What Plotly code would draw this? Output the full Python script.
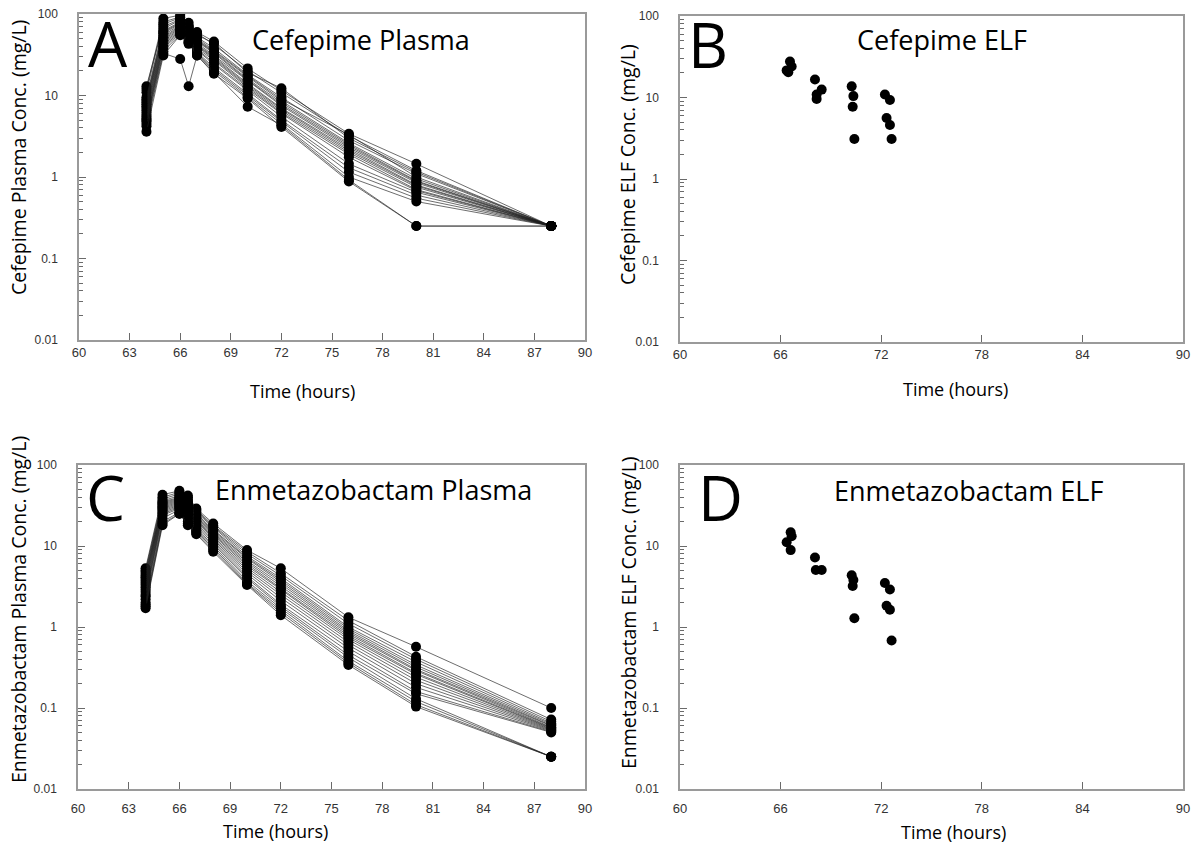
import plotly.graph_objects as go

W, H = 1203, 848

# ---------------- DATA ----------------
plasma_times = [64, 65, 66, 66.5, 67, 68, 70, 72, 76, 80, 88]

cefepime_plasma = [
    [12.0, 88, 97, 78, 60, 46, 21.5, 11.5, 3.4, 1.45, 0.25],
    [11.0, 80, 92, 72, 58, 42, 20.0, 10.8, 3.2, 1.20, 0.25],
    [13.0, 75, 90, 70, 55, 44, 19.0, 12.3, 3.0, 1.15, 0.25],
    [9.5, 70, 86, 68, 52, 38, 18.0, 9.5, 2.8, 1.10, 0.25],
    [9.0, 66, 84, 65, 50, 36, 17.5, 9.0, 3.3, 1.00, 0.25],
    [8.6, 62, 80, 63, 48, 35, 17.0, 8.6, 2.6, 0.95, 0.25],
    [8.2, 60, 78, 62, 47, 34, 16.0, 8.2, 2.5, 0.90, 0.25],
    [7.8, 58, 76, 60, 46, 33, 15.5, 7.8, 2.4, 0.88, 0.25],
    [7.4, 55, 74, 58, 44, 31, 15.0, 7.5, 2.3, 0.85, 0.25],
    [7.0, 52, 72, 56, 42, 30, 14.0, 7.0, 2.2, 0.80, 0.25],
    [6.6, 50, 70, 55, 41, 29, 13.5, 6.8, 2.1, 0.78, 0.25],
    [6.2, 48, 68, 53, 40, 28, 13.0, 6.5, 2.0, 0.75, 0.25],
    [5.8, 46, 66, 52, 38, 27, 12.5, 6.2, 1.9, 0.70, 0.25],
    [5.5, 44, 64, 50, 37, 25, 12.0, 6.0, 1.75, 0.68, 0.25],
    [5.2, 42, 62, 48, 36, 24, 11.5, 5.5, 1.45, 0.65, 0.25],
    [5.0, 40, 60, 46, 34, 22, 10.5, 5.0, 1.30, 0.60, 0.25],
    [4.8, 38, 58, 45, 33, 21, 10.0, 4.8, 1.15, 0.55, 0.25],
    [4.5, 35, 56, 44, 32, 20, 9.5, 4.5, 1.00, 0.50, 0.25],
    [4.2, 33, 28, 13, 31, 19, 7.3, 4.3, 0.92, 0.25, 0.25],
    [3.6, 31, 55, 43, 31, 18.5, 9.2, 4.1, 0.88, 0.25, 0.25],
]

enmetazobactam_plasma = [
    [5.3, 43, 48, 42, 29, 19.0, 8.9, 5.3, 1.32, 0.57, 0.100],
    [5.0, 40, 46, 40, 28, 18.0, 8.5, 4.6, 1.20, 0.43, 0.072],
    [4.8, 38, 44, 38, 27, 17.5, 8.0, 4.3, 1.10, 0.40, 0.068],
    [4.5, 36, 42, 36, 26, 17.0, 7.5, 4.0, 1.00, 0.37, 0.065],
    [4.3, 35, 40, 35, 25, 16.0, 7.2, 3.8, 0.95, 0.34, 0.063],
    [4.1, 34, 39, 34, 24, 15.5, 7.0, 3.6, 0.90, 0.32, 0.061],
    [3.9, 33, 38, 33, 23, 15.0, 6.6, 3.4, 0.86, 0.30, 0.060],
    [3.7, 32, 37, 32, 22.5, 14.5, 6.3, 3.2, 0.82, 0.29, 0.058],
    [3.5, 31, 36, 31, 22, 14.0, 6.0, 3.0, 0.78, 0.27, 0.057],
    [3.3, 30, 35, 30, 21, 13.5, 5.7, 2.9, 0.74, 0.26, 0.056],
    [3.1, 29, 34, 29, 20.5, 13.0, 5.4, 2.7, 0.70, 0.24, 0.055],
    [2.9, 28, 33, 28, 20, 12.5, 5.1, 2.5, 0.65, 0.22, 0.054],
    [2.7, 27, 32, 27, 19, 12.0, 4.8, 2.3, 0.60, 0.20, 0.053],
    [2.5, 26, 31, 26, 18, 11.5, 4.5, 2.1, 0.55, 0.18, 0.052],
    [2.4, 25, 30, 25, 17, 11.0, 4.2, 1.9, 0.50, 0.16, 0.051],
    [2.2, 24, 29, 24, 16, 10.5, 4.0, 1.8, 0.45, 0.15, 0.050],
    [2.0, 22, 28, 22, 15.5, 10.0, 3.7, 1.7, 0.42, 0.13, 0.025],
    [1.9, 20, 26, 20, 15, 9.5, 3.5, 1.6, 0.38, 0.12, 0.025],
    [1.8, 19, 25, 19, 14.5, 9.0, 3.4, 1.5, 0.36, 0.11, 0.025],
    [1.7, 18, 25, 18, 14, 8.5, 3.3, 1.4, 0.34, 0.104, 0.025],
]

cefepime_elf_time = [66.56, 66.66, 66.36, 66.46, 68.05, 68.45, 68.15, 68.15,
                     70.24, 70.34, 70.3, 70.4, 72.22, 72.52, 72.32, 72.52, 72.62]
cefepime_elf_conc = [27.7, 24.0, 21.5, 20.4, 16.6, 12.5, 10.9, 9.6,
                     13.7, 10.4, 7.7, 3.1, 10.9, 9.3, 5.6, 4.6, 3.1]

enmetazobactam_elf_time = [66.6, 66.66, 66.36, 66.6, 68.05, 68.1, 68.45,
                           70.24, 70.34, 70.3, 70.4, 72.22, 72.52, 72.32, 72.52, 72.62]
enmetazobactam_elf_conc = [14.8, 13.2, 11.1, 8.9, 7.2, 5.05, 5.05,
                           4.35, 3.8, 3.2, 1.28, 3.5, 2.9, 1.83, 1.63, 0.68]

y_tickvals = [0.01, 0.1, 1, 10, 100]
y_ticktext = ["0.01", "0.1", "1", "10", "100"]

# ---------------- FIGURE ----------------
fig = go.Figure()

line_col = "rgba(30,30,30,0.65)"

def add_subjects(rows, xa, ya):
    for r in rows:
        fig.add_trace(go.Scatter(
            x=plasma_times, y=r, mode="lines+markers",
            line=dict(color=line_col, width=1),
            marker=dict(color="black", size=10),
            xaxis=xa, yaxis=ya, showlegend=False, hoverinfo="x+y"))

add_subjects(cefepime_plasma, "x", "y")
add_subjects(enmetazobactam_plasma, "x3", "y3")

fig.add_trace(go.Scatter(x=cefepime_elf_time, y=cefepime_elf_conc, mode="markers",
                         marker=dict(color="black", size=10), xaxis="x2", yaxis="y2",
                         showlegend=False))
fig.add_trace(go.Scatter(x=enmetazobactam_elf_time, y=enmetazobactam_elf_conc, mode="markers",
                         marker=dict(color="black", size=10), xaxis="x4", yaxis="y4",
                         showlegend=False))

def xd(a, b):
    return [a / W, b / W]

def yd(top, bottom):
    return [1 - bottom / H, 1 - top / H]

frame = "#9a9a9a"
tickc = "#6a6a6a"
tickfont = dict(family="Liberation Sans, Arial", size=13, color="#333")

def xaxis(dom, dtick, anchor, standoff):
    return dict(domain=dom, range=[60, 90], dtick=dtick, tick0=60,
                ticks="inside", ticklen=7, tickcolor=tickc, tickwidth=1,
                showline=True, linecolor=frame, linewidth=1.5, mirror=True,
                showgrid=False, zeroline=False, anchor=anchor, automargin=False,
                tickfont=tickfont, ticklabelstandoff=standoff)

def yaxis(dom, anchor):
    return dict(domain=dom, type="log", range=[-2, 2],
                tickvals=y_tickvals, ticktext=y_ticktext,
                ticks="inside", ticklen=7, tickcolor=tickc, tickwidth=1,
                minor=dict(ticks="inside", ticklen=4, tickcolor=tickc, dtick="D1", showgrid=False),
                showline=True, linecolor=frame, linewidth=1.5, mirror=True,
                showgrid=False, zeroline=False, anchor=anchor, automargin=False,
                tickfont=dict(family="Liberation Sans, Arial", size=12, color="#333"),
                ticklabelstandoff=17)

fig.update_layout(
    width=W, height=H,
    margin=dict(l=0, r=0, t=0, b=0, pad=0, autoexpand=False),
    paper_bgcolor="white", plot_bgcolor="white",
    xaxis=xaxis(xd(79, 585), 3, "y", 0),
    yaxis=yaxis(yd(14, 340), "x"),
    xaxis2=xaxis(xd(680, 1183), 6, "y2", 0),
    yaxis2=yaxis(yd(16, 342), "x2"),
    xaxis3=xaxis(xd(78, 585), 3, "y3", 7),
    yaxis3=yaxis(yd(465, 789), "x3"),
    xaxis4=xaxis(xd(680, 1183), 6, "y4", 7),
    yaxis4=yaxis(yd(465, 789), "x4"),
)

FONT = "Open Sans, Noto Sans, DejaVu Sans"

def ann(text, x, y, size, xanchor="center", angle=0):
    fig.add_annotation(text=text, x=x / W, y=1 - y / H, xref="paper", yref="paper",
                       xanchor=xanchor, yanchor="middle", showarrow=False, textangle=angle,
                       font=dict(family=FONT, size=size, color="black"))

# panel letters
ann("A", 86, 43, 62, "left")
ann("B", 686, 44, 62, "left")
ann("C", 84, 497, 62, "left")
ann("D", 696, 497, 62, "left")

# panel titles
ann("Cefepime Plasma", 250, 40, 27, "left")
ann("Cefepime ELF", 855, 39, 27, "left")
ann("Enmetazobactam Plasma", 213, 489, 27, "left")
ann("Enmetazobactam ELF", 832, 490, 27, "left")

# x-axis titles
ann("Time (hours)", 302, 391, 18)
ann("Time (hours)", 955, 389, 18)
ann("Time (hours)", 275, 831, 18)
ann("Time (hours)", 953, 832, 18)

# y-axis titles
ann("Cefepime Plasma Conc. (mg/L)", 18, 158, 19.5, angle=-90)
ann("Cefepime ELF Conc. (mg/L)", 628, 165, 19.5, angle=-90)
ann("Enmetazobactam Plasma Conc. (mg/L)", 18, 610, 19.5, angle=-90)
ann("Enmetazobactam ELF Conc. (mg/L)", 628, 613, 19.5, angle=-90)

fig.write_html(
    "out.html",
    config={"displayModeBar": False},
    post_script="document.body.style.margin='0';document.body.style.overflow='hidden';",
)
